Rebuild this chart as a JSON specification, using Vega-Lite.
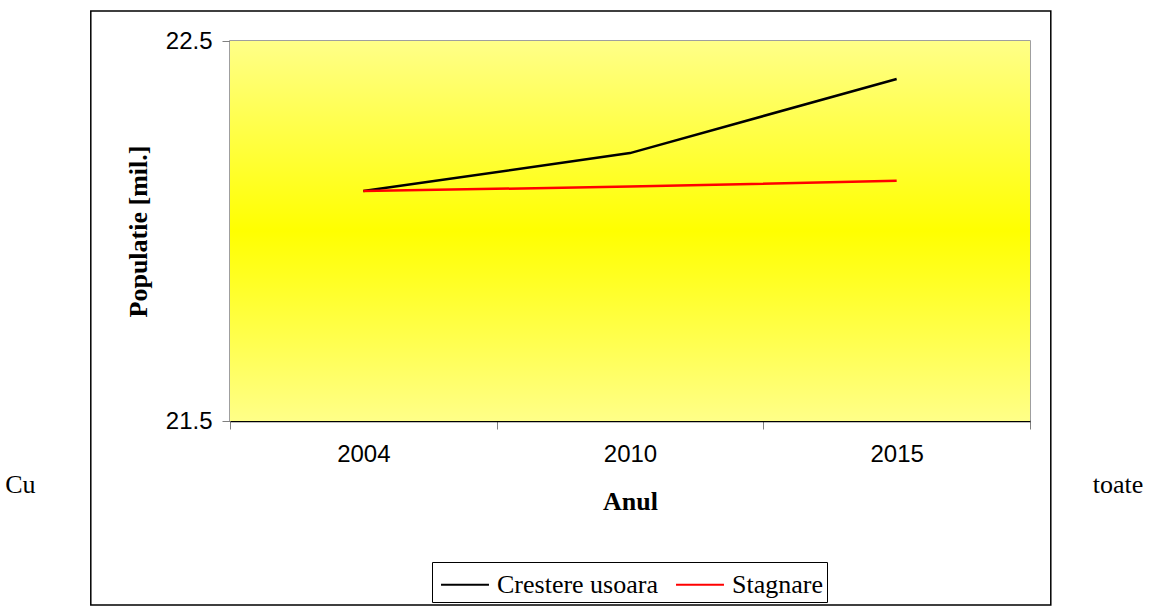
{
  "$schema": "https://vega.github.io/schema/vega-lite/v6.json",
  "autosize": {"type": "none"},
  "width": 800,
  "height": 380,
  "padding": {"left": 230, "top": 41, "right": 123, "bottom": 187},
  "background": "white",
  "config": {
    "view": {"stroke": "#808080", "strokeWidth": 1.5},
    "axis": {"labelFont": "Liberation Sans", "labelColor": "black", "titleFont": "Liberation Serif", "titleColor": "black", "titleFontWeight": "bold", "grid": false}
  },
  "datasets": {
    "series": [
      {"year": "2004", "value": 22.105, "series": "Crestere usoara"},
      {"year": "2010", "value": 22.205, "series": "Crestere usoara"},
      {"year": "2015", "value": 22.4, "series": "Crestere usoara"},
      {"year": "2004", "value": 22.105, "series": "Stagnare"},
      {"year": "2010", "value": 22.117, "series": "Stagnare"},
      {"year": "2015", "value": 22.132, "series": "Stagnare"}
    ],
    "page": [
      {"word": "Cu", "pos": -0.262},
      {"word": "toate", "pos": 1.11}
    ],
    "one": [{}]
  },
  "layer": [
    {
      "data": {"name": "one"},
      "mark": {
        "type": "rect",
        "color": {
          "gradient": "linear", "x1": 0, "y1": 0, "x2": 0, "y2": 1,
          "stops": [
            {"offset": 0, "color": "#ffff88"},
            {"offset": 0.5, "color": "#ffff00"},
            {"offset": 1, "color": "#ffff88"}
          ]
        }
      },
      "encoding": {}
    },
    {
      "data": {"name": "one"},
      "mark": {"type": "rect", "filled": false, "color": "black", "strokeWidth": 1.5, "clip": false},
      "encoding": {
        "x": {"datum": -0.174, "type": "quantitative", "scale": {"domain": [0, 1]}, "axis": null},
        "x2": {"datum": 1.026},
        "y": {"datum": 22.579, "type": "quantitative"},
        "y2": {"datum": 21.016}
      }
    },
    {
      "data": {"name": "page"},
      "mark": {"type": "text", "font": "Liberation Serif", "fontSize": 26, "align": "center", "baseline": "alphabetic", "clip": false},
      "encoding": {
        "x": {"field": "pos", "type": "quantitative", "scale": {"domain": [0, 1]}, "axis": null},
        "y": {"datum": 21.31, "type": "quantitative"},
        "text": {"field": "word"}
      }
    },
    {
      "data": {"name": "series"},
      "mark": {"type": "line", "strokeWidth": 2.5},
      "encoding": {
        "x": {
          "field": "year", "type": "ordinal", "bandPosition": 0.5,
          "scale": {"type": "band", "paddingInner": 0, "paddingOuter": 0},
          "axis": {"title": "Anul", "labelAngle": 0, "tickBand": "extent", "tickSize": 8, "tickColor": "#808080", "domainColor": "black", "domainWidth": 1.5, "labelFontSize": 24, "labelPadding": 13, "titleFontSize": 26, "titlePadding": 22}
        },
        "y": {
          "field": "value", "type": "quantitative",
          "scale": {"domain": [21.5, 22.5], "zero": false, "nice": false},
          "axis": {"title": "Populatie [mil.]", "values": [21.5, 22.5], "format": ".1f", "tickSize": 8, "tickColor": "#808080", "domain": false, "labelFontSize": 24, "labelPadding": 10, "titleFontSize": 26, "titlePadding": 14}
        },
        "color": {
          "field": "series", "type": "nominal",
          "scale": {"domain": ["Crestere usoara", "Stagnare"], "range": ["black", "red"]},
          "legend": {"title": null, "orient": "none", "legendX": 202, "legendY": 521, "direction": "horizontal", "symbolType": "M-0.77,0H1.97", "symbolSize": 1225, "symbolStrokeWidth": 2, "labelFont": "Liberation Serif", "labelFontSize": 26, "labelColor": "black", "labelOffset": 24, "strokeColor": "black", "padding": 4, "columnPadding": 13, "labelLimit": 400}
        }
      }
    }
  ],
  "resolve": {"scale": {"x": "independent"}}
}
